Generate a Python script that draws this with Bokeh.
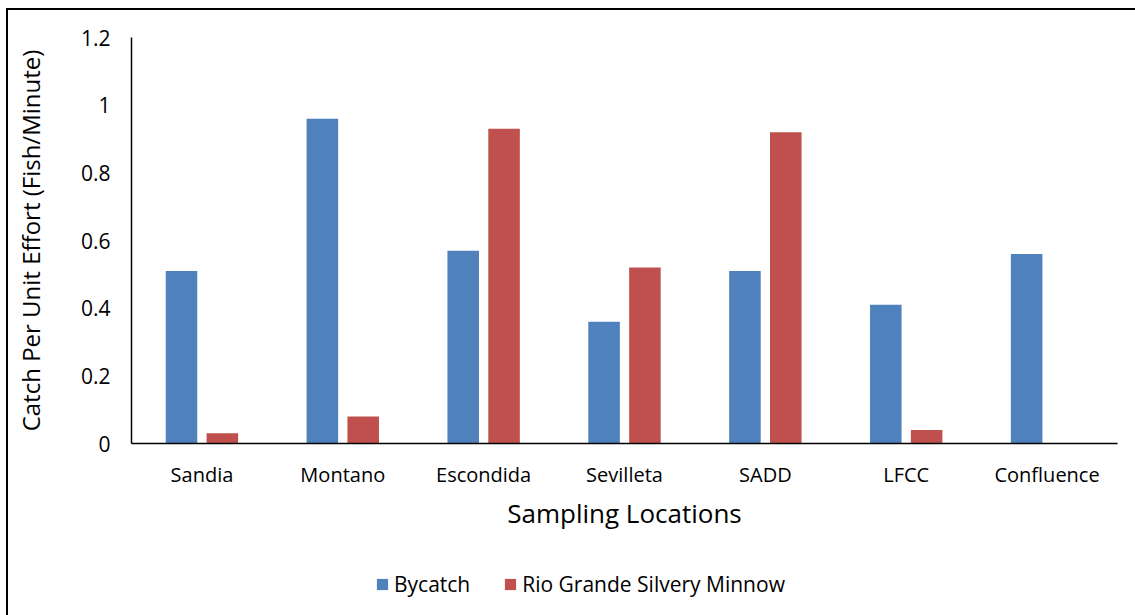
from bokeh.plotting import figure
from bokeh.layouts import column
from bokeh.models import ColumnDataSource, FixedTicker, NumeralTickFormatter, Legend, LegendItem
from bokeh.transform import dodge
from bokeh.embed import file_html
from bokeh.resources import INLINE

# Catch per unit effort by sampling location
locations = ["Sandia", "Montano", "Escondida", "Sevilleta", "SADD", "LFCC", "Confluence"]
bycatch = [0.51, 0.96, 0.57, 0.36, 0.51, 0.41, 0.56]
minnow = [0.03, 0.08, 0.93, 0.52, 0.92, 0.04, 0.0]
y_ticks = [0, 0.2, 0.4, 0.6, 0.8, 1.0, 1.2]
series_names = ["Bycatch", "Rio Grande Silvery Minnow"]

BLUE = "#4F81BD"
RED = "#C0504D"
FONT = "Open Sans"

src = ColumnDataSource(dict(loc=locations, bycatch=bycatch, minnow=minnow))

# main bar chart
p = figure(
    x_range=locations, y_range=(0, 1.2),
    width=1127, height=535,
    min_border_left=123, min_border_top=27, min_border_right=18, min_border_bottom=102,
    output_backend="svg", toolbar_location=None,
)
p.x_range.range_padding = 0
p.outline_line_color = None
p.grid.grid_line_color = None

p.vbar(x=dodge("loc", -0.145, range=p.x_range), top="bycatch", width=0.224,
       source=src, fill_color=BLUE, line_color=None)
p.vbar(x=dodge("loc", 0.145, range=p.x_range), top="minnow", width=0.224,
       source=src, fill_color=RED, line_color=None)

for ax in (p.xaxis[0], p.yaxis[0]):
    ax.axis_line_color = "black"
    ax.axis_line_width = 1.5
    ax.major_tick_line_color = None
    ax.minor_tick_line_color = None
    ax.major_tick_out = 0
    ax.major_tick_in = 0
    ax.minor_tick_out = 0
    ax.major_label_text_font = FONT
    ax.major_label_text_color = "black"
    ax.axis_label_text_font = FONT
    ax.axis_label_text_font_style = "normal"
    ax.axis_label_text_color = "black"

p.yaxis.ticker = FixedTicker(ticks=y_ticks)
p.yaxis.formatter = NumeralTickFormatter(format="0.[0]")
p.yaxis.major_label_text_font_size = "21px"
p.yaxis.major_label_standoff = 21
p.yaxis.axis_label = "Catch Per Unit Effort (Fish/Minute)"
p.yaxis.axis_label_text_font_size = "24px"
p.yaxis.axis_label_standoff = 31
p.xaxis.major_label_text_font_size = "20px"
p.xaxis.major_label_standoff = 17
p.xaxis.axis_label = "Sampling Locations"
p.xaxis.axis_label_text_font_size = "26px"
p.xaxis.axis_label_standoff = 4

# legend strip beneath the chart
lg = figure(
    width=1127, height=70, x_range=(0, 1), y_range=(0, 1),
    x_axis_type=None, y_axis_type=None,
    min_border=0, output_backend="svg", toolbar_location=None,
)
lg.outline_line_color = None
lg.grid.grid_line_color = None
# zero-height keys: only their colours are used, by the legend
k1 = lg.vbar(x=[0.5], top=[0], width=0.1, fill_color=BLUE, line_color=None)
k2 = lg.vbar(x=[0.5], top=[0], width=0.1, fill_color=RED, line_color=None)

legend = Legend(
    items=[LegendItem(label=series_names[0], renderers=[k1]),
           LegendItem(label=series_names[1], renderers=[k2])],
    orientation="horizontal", location=(244, 17),
    padding=0, margin=0, spacing=33, label_standoff=5,
    glyph_width=14, glyph_height=14,
    border_line_color=None, background_fill_alpha=0,
    label_text_font=FONT, label_text_font_size="21px", label_text_color="black",
)
lg.add_layout(legend, "center")

page = column(p, lg, spacing=0)
page.margin = (8, 0, 0, 6)
page.styles = {"border-left": "2px solid black", "border-top": "2px solid black"}

open("out.html", "w").write(file_html(page, INLINE))
